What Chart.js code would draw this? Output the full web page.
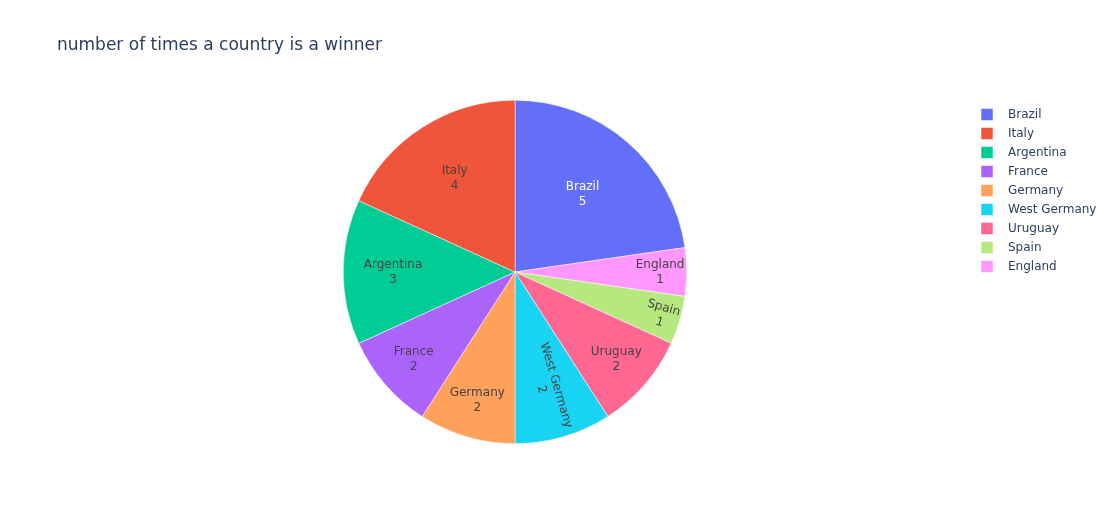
<!DOCTYPE html>
<html>
<head>
<meta charset="utf-8">
<script src="https://cdn.jsdelivr.net/npm/chart.js@4"></script>
<style>
html,body{margin:0;padding:0;background:#fff;}
#wrap{width:1112px;height:525px;position:relative;}
</style>
</head>
<body>
<div id="wrap"><canvas id="c" width="1112" height="525"></canvas></div>
<script>
// Slice order as drawn clockwise from 12 o'clock
const categories = ["Brazil","England","Spain","Uruguay","West Germany","Germany","France","Argentina","Italy"];
const wins = [5,1,1,2,2,2,2,3,4];
// Legend order (descending, as in reference)
const legendOrder = ["Brazil","Italy","Argentina","France","Germany","West Germany","Uruguay","Spain","England"];
const titleText = "number of times a country is a winner";

// Styles
const colorMap = {"Brazil":"#636efa","Italy":"#EF553B","Argentina":"#00cc96","France":"#ab63fa","Germany":"#FFA15A","West Germany":"#19d3f3","Uruguay":"#FF6692","Spain":"#B6E880","England":"#FF97FF"};
const labelRadius = {"Brazil":0.60,"England":0.845,"Spain":0.89,"Uruguay":0.78,"West Germany":0.70,"Germany":0.78,"France":0.78,"Argentina":0.71,"Italy":0.65};
const radialText = {"Spain":true,"West Germany":true};
const whiteText = {"Brazil":true};

const FONT = '"DejaVu Sans", Verdana, sans-serif';

const overlay = {
  id:'overlay',
  afterDatasetsDraw(chart){
    const ctx = chart.ctx;
    const meta = chart.getDatasetMeta(0);
    ctx.save();
    ctx.font = '12px ' + FONT;
    ctx.textAlign = 'center';
    ctx.textBaseline = 'middle';
    meta.data.forEach((arc, i) => {
      const p = arc.getProps(['x','y','startAngle','endAngle','outerRadius'], true);
      const name = categories[i];
      const mid = (p.startAngle + p.endAngle)/2;
      const r = p.outerRadius * labelRadius[name];
      const cx = p.x + Math.cos(mid)*r;
      const cy = p.y + Math.sin(mid)*r;
      ctx.save();
      ctx.translate(cx, cy);
      if (radialText[name]) {
        let a = mid;
        while (a > Math.PI/2) a -= Math.PI;
        while (a < -Math.PI/2) a += Math.PI;
        ctx.rotate(a);
      }
      ctx.fillStyle = whiteText[name] ? '#ffffff' : '#444444';
      ctx.fillText(name, 0, -7.5);
      ctx.fillText(String(wins[i]), 0, 7.5);
      ctx.restore();
    });
    // title
    ctx.textAlign = 'left';
    ctx.textBaseline = 'middle';
    ctx.fillStyle = '#2a3f5f';
    ctx.font = '17px ' + FONT;
    ctx.fillText(titleText, 57, 45.5);
    // legend
    ctx.font = '12px ' + FONT;
    legendOrder.forEach((name, k) => {
      const y = 114.5 + k*19;
      ctx.fillStyle = colorMap[name];
      ctx.fillRect(981, y-6, 12, 12);
      ctx.strokeStyle = '#ffffff';
      ctx.lineWidth = 0.5;
      ctx.strokeRect(981, y-6, 12, 12);
      ctx.fillStyle = '#2a3f5f';
      ctx.fillText(name, 1008, y);
    });
    ctx.restore();
  }
};

new Chart(document.getElementById('c'), {
  type:'pie',
  data:{
    labels: categories,
    datasets:[{
      data: wins,
      backgroundColor: categories.map(n => colorMap[n]),
      borderColor:'#ffffff',
      borderWidth:0.5
    }]
  },
  options:{
    responsive:false,
    animation:false,
    layout:{padding:{left:343,right:425,top:100,bottom:81}},
    plugins:{legend:{display:false},tooltip:{enabled:false},title:{display:false}}
  },
  plugins:[overlay]
});
</script>
</body>
</html>
